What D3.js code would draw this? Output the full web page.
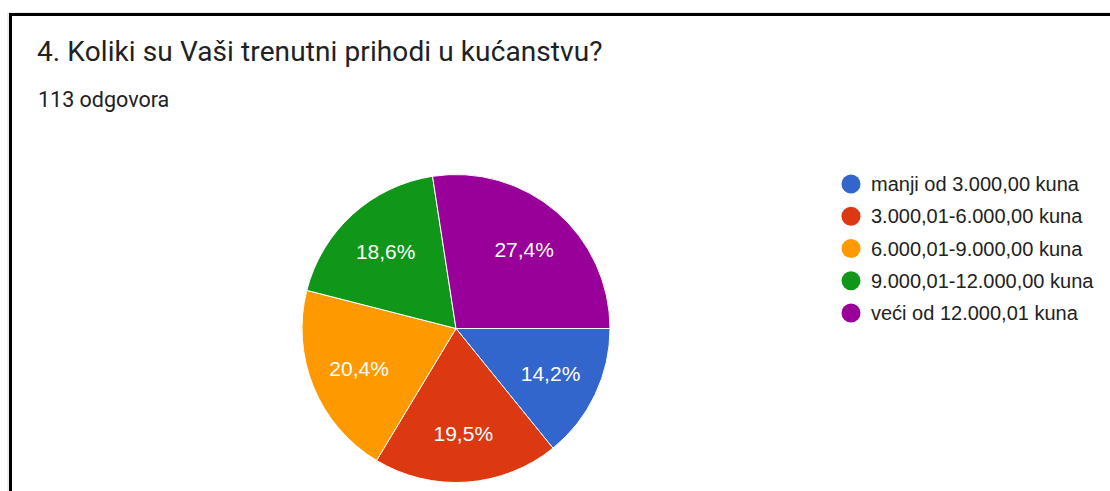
<!DOCTYPE html>
<html>
<head>
<meta charset="utf-8">
<script src="https://cdn.jsdelivr.net/npm/d3@7"></script>
<style>
  body { margin: 0; background: #fff; }
  svg { display: block; }
</style>
</head>
<body>
<svg id="chart" width="1110" height="491"></svg>
<script>
const title = "4. Koliki su Vaši trenutni prihodi u kućanstvu?"
const subtitle = "113 odgovora"
const categories = ["manji od 3.000,00 kuna", "3.000,01-6.000,00 kuna", "6.000,01-9.000,00 kuna",
  "9.000,01-12.000,00 kuna", "veći od 12.000,01 kuna"]
const counts = [16, 22, 23, 21, 31]
const colors = ["#3366cc", "#dc3912", "#ff9900", "#109618", "#990099"]

const svg = d3.select("#chart")

// okvir
svg.append("path")
  .attr("d", "M8,491V13H1110")
  .attr("fill", "none")
  .attr("stroke", "#ddd")
  .attr("stroke-width", 1)
svg.append("path")
  .attr("d", "M10.5,491V14.5H1110")
  .attr("fill", "none")
  .attr("stroke", "#000")
  .attr("stroke-width", 3)

svg.append("text")
  .attr("x", 37).attr("y", 61)
  .style("font-family", "Roboto")
  .style("font-size", "28px")
  .style("letter-spacing", "0.1px")
  .attr("fill", "#202124")
  .text(title)

svg.append("text")
  .attr("x", 38).attr("y", 107)
  .style("font-family", "Roboto")
  .style("font-size", "21.5px")
  .attr("fill", "#202124")
  .text(subtitle)

const cx = 456, cy = 328.5, R = 154
const total = d3.sum(counts)

const pie = d3.pie().sort(null)
  .startAngle(Math.PI / 2).endAngle(Math.PI / 2 + 2 * Math.PI)
const arcs = pie(counts)
const arc = d3.arc().innerRadius(0).outerRadius(R)
const labelArc = d3.arc().innerRadius(R * 0.68).outerRadius(R * 0.68)

const g = svg.append("g").attr("transform", "translate(" + cx + "," + cy + ")")

g.selectAll("path.slice")
  .data(arcs)
  .enter().append("path")
  .attr("class", "slice")
  .attr("d", arc)
  .attr("fill", (d, i) => colors[i])
  .attr("stroke", "#fff")
  .attr("stroke-width", 1)

g.selectAll("text.lbl")
  .data(arcs)
  .enter().append("text")
  .attr("class", "lbl")
  .attr("transform", d => "translate(" + labelArc.centroid(d) + ")")
  .attr("text-anchor", "middle")
  .attr("dy", "0.36em")
  .style("font-family", "Liberation Sans, Arial")
  .style("font-size", "21px")
  .attr("fill", "#fff")
  .text(d => (d.data / total * 100).toFixed(1).replace(".", ",") + "%")

// legenda
const legY = d3.scalePoint().domain(d3.range(categories.length)).range([184, 313])
const leg = svg.append("g")
categories.forEach((c, i) => {
  leg.append("circle")
    .attr("cx", 851).attr("cy", legY(i)).attr("r", 9.5)
    .attr("fill", colors[i])
  leg.append("text")
    .attr("x", 871).attr("y", legY(i))
    .attr("dy", "0.36em")
    .style("font-family", "Liberation Sans, Arial")
    .style("font-size", "20px")
    .attr("fill", "#222")
    .text(c)
})
</script>
</body>
</html>
